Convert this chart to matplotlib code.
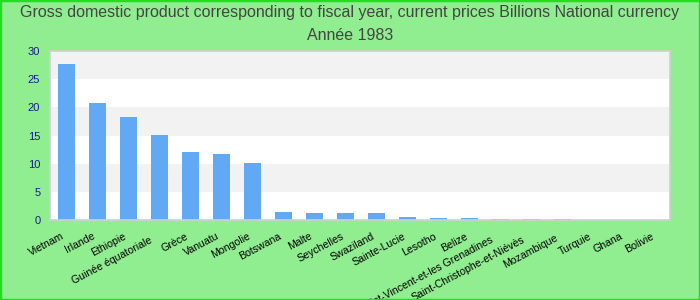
import matplotlib
matplotlib.use("Agg")
import matplotlib.pyplot as plt
from matplotlib.patches import Rectangle
import matplotlib.transforms as mtransforms

categories = ["Vietnam", "Irlande", "Ethiopie", "Guinée équatoriale", "Grèce", "Vanuatu",
              "Mongolie", "Botswana", "Malte", "Seychelles", "Swaziland", "Sainte-Lucie",
              "Lesotho", "Belize", "Saint-Vincent-et-les Grenadines", "Saint-Christophe-et-Niévès",
              "Mozambique", "Turquie", "Ghana", "Bolivie"]
values = [27.7, 20.8, 18.3, 15.1, 12.1, 11.7, 10.1, 1.42, 1.24, 1.24, 1.24, 0.53,
          0.35, 0.35, 0.18, 0.18, 0.18, 0.01, 0.005, 0.003]
yticks = [0, 5, 10, 15, 20, 25, 30]
title_line1 = "Gross domestic product corresponding to fiscal year, current prices Billions National currency"
title_line2 = "Année 1983"

plt.rcParams['font.family'] = ['Liberation Sans', 'DejaVu Sans']

fig = plt.figure(figsize=(7, 3), dpi=100, facecolor='#90EE90')
ax = fig.add_axes([50/700, 1-220/300, 620/700, 169/300])
ax.set_facecolor('white')

for i in range(6):
    if i % 2 == 1:
        ax.axhspan(i*5, i*5+5, color='#f2f2f2', zorder=0, lw=0)

x = list(range(len(categories)))
ax.bar(x, values, width=0.55, color='#62a9f5', zorder=2)
ax.set_xlim(-0.53, len(categories)-0.53)
ax.set_ylim(0, 30)
ax.set_yticks(yticks)
ax.set_yticklabels([str(t) for t in yticks], color='#1a1a8c', fontsize=8)
ax.tick_params(axis='y', length=0, pad=7)
ax.tick_params(axis='x', length=0, pad=8)
ax.set_xticks(x)
labels = ax.set_xticklabels(categories, rotation=28, ha='right', rotation_mode='anchor', fontsize=7.6)
for idx, lab in enumerate(labels):
    if idx in (3, 14, 15):
        dx, dy = -10, -4
    elif idx == 16:
        dx, dy = -8, -2
    else:
        dx, dy = -5, 0
    off = mtransforms.ScaledTranslation(dx/100, dy/100, fig.dpi_scale_trans)
    lab.set_transform(lab.get_transform() + off)
for s in ax.spines.values():
    s.set_color('#d0d0d0')
    s.set_linewidth(1.2)

fig.text(0.5, 1-13/300, title_line1, ha='center', va='center', fontsize=11.5, color='#444444')
fig.text(0.5, 1-36/300, title_line2, ha='center', va='center', fontsize=11.5, color='#444444')

fig.patches.append(Rectangle((0, 0), 1, 1, transform=fig.transFigure, fill=False,
                             edgecolor='#22dd22', linewidth=2.5))
fig.savefig('out.png', dpi=100, facecolor=fig.get_facecolor())
